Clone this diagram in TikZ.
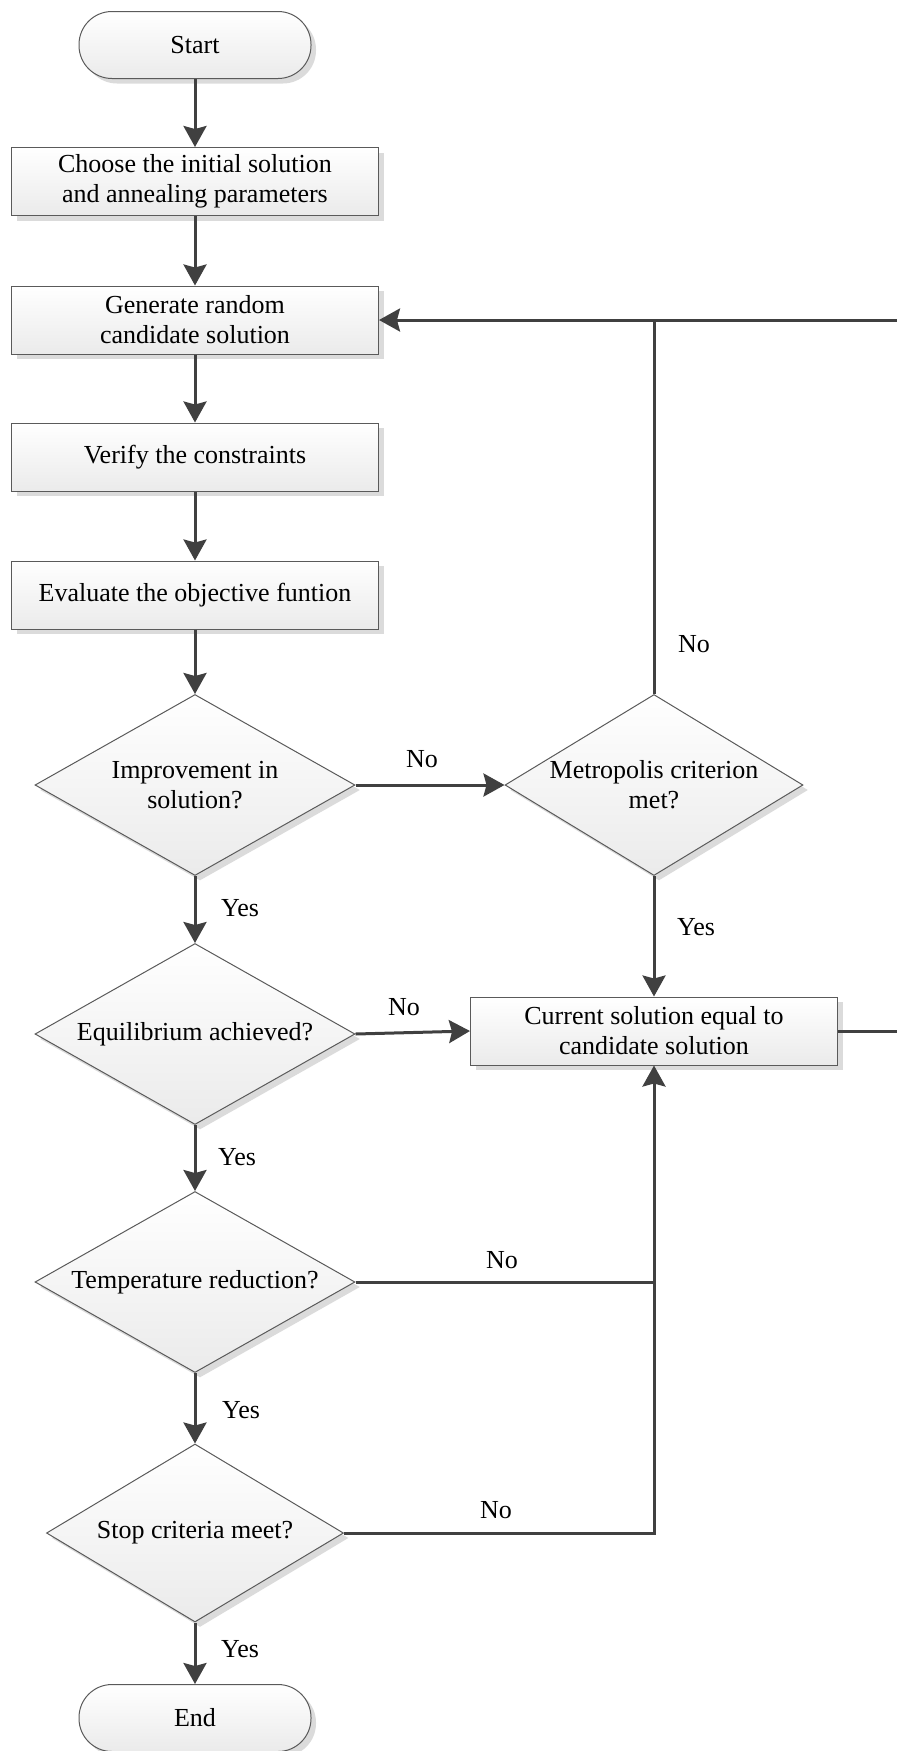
\documentclass[tikz,border=0pt]{standalone}
\usepackage{fontspec}
\setmainfont{Liberation Serif}
\usetikzlibrary{shapes.geometric,arrows.meta,shadows,calc}
\definecolor{lc}{HTML}{404040}
\definecolor{bc}{HTML}{5A5A5A}
\begin{document}
\begin{tikzpicture}[x=0.5pt,y=-0.5pt,font=\fontsize{13}{15}\selectfont,
  base/.style={draw=bc,line width=0.5pt,top color=white,bottom color=black!8,
    drop shadow={shadow xshift=2.5pt,shadow yshift=-2.5pt,fill=black!14,opacity=1},align=center},
  proc/.style={base,rectangle,minimum width=183.5pt,minimum height=34pt,inner sep=2pt},
  term/.style={base,rectangle,rounded corners=16.5pt,minimum width=116pt,minimum height=33.5pt},
  dec/.style={base,diamond,minimum width=160pt,minimum height=90.5pt,inner sep=-4pt,aspect=1.77},
  arr/.style={draw=lc,line width=1.5pt,-{Stealth[length=10.5pt,width=11.5pt,inset=1.5pt]}},
  ln/.style={draw=lc,line width=1.5pt},
  lab/.style={inner sep=0pt}]
\useasboundingbox (0,0) rectangle (896,1751);
\node[term] (start) at (195,45) {Start};
\node[proc] (b1) at (195,181.5) {Choose the initial solution\\and annealing parameters};
\node[proc] (b2) at (195,320) {Generate random\\candidate solution};
\node[proc] (b3) at (195,457) {Verify the constraints};
\node[proc] (b4) at (195,595) {Evaluate the objective funtion};
\node[dec] (d1) at (195,785) {Improvement in\\solution?};
\node[dec,minimum width=149pt] (d2) at (654,785) {Metropolis criterion\\met?};
\node[dec] (d3) at (195,1034) {Equilibrium achieved?};
\node[proc] (cur) at (654,1031) {Current solution equal to\\candidate solution};
\node[dec] (d4) at (195,1282) {Temperature reduction?};
\node[dec,minimum width=148.5pt,minimum height=89pt] (d5) at (195,1533) {Stop criteria meet?};
\node[term] (end) at (195,1718) {End};

\draw[arr] (start) -- (b1);
\draw[arr] (b1) -- (b2);
\draw[arr] (b2) -- (b3);
\draw[arr] (b3) -- (b4);
\draw[arr] (b4) -- (d1);
\draw[arr] (d1.south) -- (d3.north);
\draw[arr] (d1.east) -- (d2.west);
\draw[arr] (d2.north) |- (b2.east);
\coordinate (j2) at (d2.north |- b2.east);
\coordinate (r1) at ($(cur.east)+(70,0)$);
\draw[ln] (cur.east) -- (r1) |- (j2);
\draw[arr] (d2.south) -- (cur.north);
\draw[arr] (d3.east) -- (cur.west);
\draw[arr] (d3.south) -- (d4.north);
\draw[arr] (d4.east) -| (cur.south);
\coordinate (j4) at (d4.east -| cur.south);
\draw[ln] (d5.east) -| (j4);
\draw[arr] (d4.south) -- (d5.north);
\draw[arr] (d5.south) -- (end.north);

\node[lab] (l1) at (422,759) {No};
\node[lab] (l2) at (694,644) {No};
\node[lab] (l3) at (696,927) {Yes};
\node[lab] (l4) at (240,908) {Yes};
\node[lab] (l5) at (404,1007) {No};
\node[lab] (l6) at (237,1157) {Yes};
\node[lab] (l7) at (502,1260) {No};
\node[lab] (l8) at (241,1410) {Yes};
\node[lab] (l9) at (496,1510) {No};
\node[lab] (l10) at (240,1649) {Yes};
\end{tikzpicture}
\end{document}
